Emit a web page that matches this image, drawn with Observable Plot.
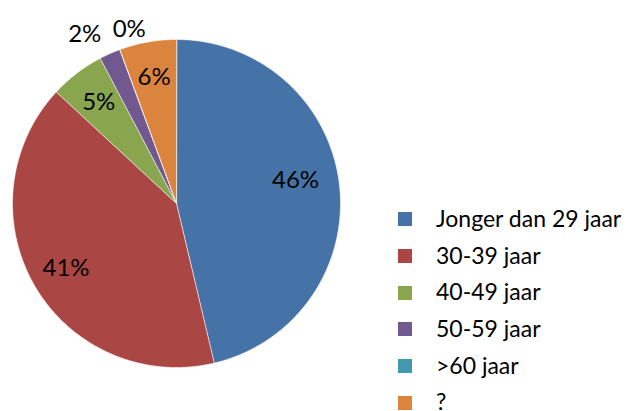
<!DOCTYPE html>
<html>
<head>
<meta charset="utf-8">
<script src="https://cdn.jsdelivr.net/npm/d3@7"></script>
<script src="https://cdn.jsdelivr.net/npm/@observablehq/plot@0.6"></script>
<style>
  html, body { margin: 0; padding: 0; background: #fff; }
  #wrap { position: relative; width: 637px; height: 411px; font-family: Lato, "Open Sans", sans-serif; overflow: hidden; }
  #legend { position: absolute; left: 398px; top: 201px; }
  .row { display: flex; align-items: center; height: 36.7px; }
  .sw { width: 14px; height: 14px; margin-right: 24px; }
  .lab { font-size: 23px; line-height: 18px; color: #000; white-space: nowrap; position: relative; top: -1.5px; }
</style>
</head>
<body>
<div id="wrap"></div>
<script>
const categories = ["Jonger dan 29 jaar", "30-39 jaar", "40-49 jaar", "50-59 jaar", ">60 jaar", "?"];
const values = [46.3, 40.6, 5.4, 2.1, 0, 5.6];
const colors = ["#4572A7", "#AA4643", "#89A54E", "#71588F", "#4198AF", "#DB843D"];

const total = d3.sum(values);
const arcs = d3.pie().sort(null).value(d => d)(values);

// slice polygons in unit-circle data space
const slicePts = [];
arcs.forEach((a, i) => {
  const cat = categories[i];
  slicePts.push({cat, x: 0, y: 0});
  const n = Math.max(2, Math.ceil((a.endAngle - a.startAngle) / (Math.PI / 360)));
  for (let k = 0; k <= n; k++) {
    const t = a.startAngle + (a.endAngle - a.startAngle) * k / n;
    slicePts.push({cat, x: Math.sin(t), y: Math.cos(t)});
  }
});

// labels
const labels = arcs.map((a, i) => {
  const share = values[i] / total;
  const mid = (a.startAngle + a.endAngle) / 2;
  const outside = share < 0.03;
  const r = outside ? 1.13 : (share > 0.45 ? 0.74 : 0.78);
  const ang = share > 0.45 ? mid - 0.08 : mid;
  return {cat: categories[i], text: Math.round(share * 100) + "%", x: r * Math.sin(ang), y: r * Math.cos(ang), outside, i};
});
const inside = labels.filter(d => !d.outside);
const outsideL = labels.filter(d => d.outside);
const outsideEnd = outsideL.filter(d => labels[d.i + 1] && labels[d.i + 1].outside);
const outsideStart = outsideL.filter(d => !(labels[d.i + 1] && labels[d.i + 1].outside));

const chart = Plot.plot({
  width: 637,
  height: 411,
  margin: 0,
  x: {domain: [-1, 1], range: [12, 340], axis: null},
  y: {domain: [-1, 1], range: [367, 39], axis: null},
  color: {domain: categories, range: colors, type: "ordinal"},
  style: {fontFamily: "Lato, 'Open Sans', sans-serif", background: "white"},
  marks: [
    Plot.line(slicePts, {x: "x", y: "y", z: "cat", fill: "cat", stroke: "white", strokeWidth: 0.6, curve: "linear-closed"}),
    Plot.text(inside, {x: "x", y: "y", text: "text", fontSize: 24, fill: "black", textAnchor: "middle"}),
    Plot.text(outsideEnd, {x: "x", y: "y", text: "text", fontSize: 24, fill: "black", textAnchor: "end"}),
    Plot.text(outsideStart, {x: "x", y: "y", text: "text", fontSize: 24, fill: "black", textAnchor: "start"})
  ]
});

const wrap = document.getElementById("wrap");
wrap.appendChild(chart);

const legend = document.createElement("div");
legend.id = "legend";
categories.forEach((c, i) => {
  const row = document.createElement("div");
  row.className = "row";
  const sw = document.createElement("div");
  sw.className = "sw";
  sw.style.background = colors[i];
  const lab = document.createElement("span");
  lab.className = "lab";
  lab.textContent = c;
  row.appendChild(sw);
  row.appendChild(lab);
  legend.appendChild(row);
});
wrap.appendChild(legend);
</script>
</body>
</html>
